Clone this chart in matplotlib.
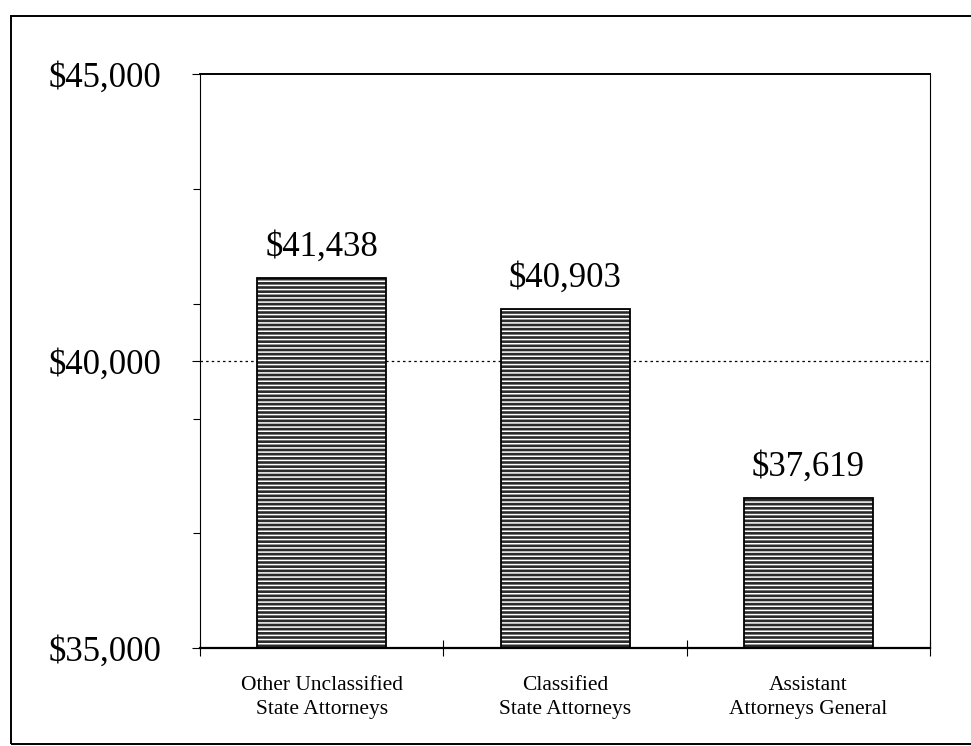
import matplotlib
matplotlib.use("Agg")
import matplotlib.pyplot as plt
from matplotlib.patches import Rectangle
from matplotlib.ticker import FixedLocator, FuncFormatter

plt.rcParams['font.family'] = ['Liberation Serif', 'DejaVu Serif']
plt.rcParams['hatch.linewidth'] = 1.1

categories = ["Other Unclassified\nState Attorneys", "Classified\nState Attorneys",
              "Assistant\nAttorneys General"]
salaries = [41438, 40903, 37619]
value_labels = ["$41,438", "$40,903", "$37,619"]
y_major = [35000, 40000, 45000]
y_minor = [37000, 39000, 41000, 43000]

fig = plt.figure(figsize=(9.71, 7.46), dpi=100)
ax = fig.add_axes([0.206, 0.131, 0.752, 0.770])

x = list(range(len(categories)))
# dark textured fill: grey face with white horizontal hatch, then black outline
ax.bar(x, [s - 35000 for s in salaries], bottom=35000, width=0.53,
       color='#2b2b2b', edgecolor='white', hatch='----', linewidth=0, zorder=2)
ax.bar(x, [s - 35000 for s in salaries], bottom=35000, width=0.53,
       fill=False, edgecolor='black', linewidth=1.3, zorder=3)

ax.axhline(40000, color='black', linestyle=(0, (2, 2.5)), linewidth=0.9, zorder=1)

for xi, s, lab in zip(x, salaries, value_labels):
    ax.text(xi, s + 250, lab, ha='center', va='bottom', fontsize=25)

ax.set_xlim(-0.5, 2.5)
ax.set_ylim(35000, 45000)
ax.yaxis.set_major_locator(FixedLocator(y_major))
ax.yaxis.set_minor_locator(FixedLocator(y_minor))
ax.yaxis.set_major_formatter(FuncFormatter(lambda v, p: f"${v:,.0f}"))
ax.tick_params(axis='y', which='major', labelsize=25, length=6, width=0.8, pad=22)
ax.tick_params(axis='y', which='minor', length=5, width=0.8)

ax.xaxis.set_major_locator(FixedLocator(x))
ax.set_xticklabels(categories, fontsize=15.5, linespacing=1.35)
ax.xaxis.set_minor_locator(FixedLocator([-0.5, 0.5, 1.5, 2.5]))
ax.tick_params(axis='x', which='major', length=0, pad=20)
ax.tick_params(axis='x', which='minor', length=12, width=0.8, direction='inout')

for side in ['left', 'right']:
    ax.spines[side].set_linewidth(0.8)
ax.spines['top'].set_linewidth(1.4)
ax.spines['bottom'].set_linewidth(1.6)

# outer border of the scanned page frame
fig.patches.append(Rectangle((0.011, 0.003), 1.1, 0.976, transform=fig.transFigure,
                             fill=False, edgecolor='black', linewidth=1.4))

fig.savefig("out.png", dpi=100)
